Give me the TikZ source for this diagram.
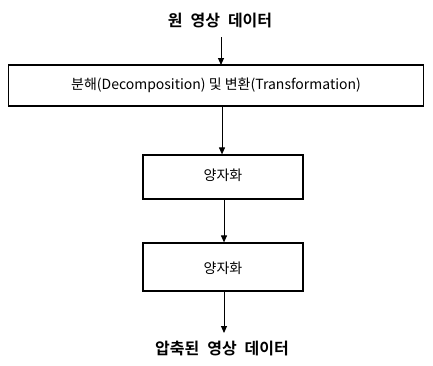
\documentclass[tikz,border=0pt]{standalone}
\usepackage{fontspec}
\setmainfont{Noto Sans CJK KR}
\newfontfamily\kbold{Noto Sans CJK KR Bold}
\usetikzlibrary{arrows.meta}
\newcommand{\tsp}{\hspace{0.5em}}
\begin{document}
\begin{tikzpicture}[x=1pt,y=-1pt,
  boxstyle/.style={draw, line width=1.2pt, inner sep=0pt},
  conn/.style={line width=1pt, -{Triangle[length=7pt,width=6pt]}},
  titlestyle/.style={font=\kbold\fontsize{16}{18}\selectfont, inner sep=0pt},
  boxtext/.style={font=\fontsize{14}{16}\selectfont, inner sep=0pt}]
\useasboundingbox (0,0) rectangle (433,365);
\node[titlestyle] (top) at (220,21) {원\tsp 영상\tsp 데이터};
\node[boxstyle, minimum width=415pt, minimum height=41pt] (b1) at (216,85.5) {};
\node[boxtext] (t1) at (216,85.5) {분해(Decomposition) 및 변환(Transformation)};
\node[boxstyle, minimum width=160pt, minimum height=44pt] (b2) at (223,177) {};
\node[boxtext] (t2) at (223,175) {양자화};
\node[boxstyle, minimum width=160pt, minimum height=48pt] (b3) at (223,267) {};
\node[boxtext] (t3) at (223,268) {양자화};
\node[titlestyle] (bot) at (222,348) {압축된\tsp 영상\tsp 데이터};
\coordinate (a1s) at (221,37);
\draw[conn] (a1s) -- (221,65);
\draw[conn] ([xshift=6pt]b1.south) -- ([xshift=-1pt]b2.north);
\draw[conn] ([xshift=1pt]b2.south) -- ([xshift=1pt]b3.north);
\coordinate (a4e) at (224,333);
\draw[conn] ([xshift=1pt]b3.south) -- (a4e);
\end{tikzpicture}
\end{document}
